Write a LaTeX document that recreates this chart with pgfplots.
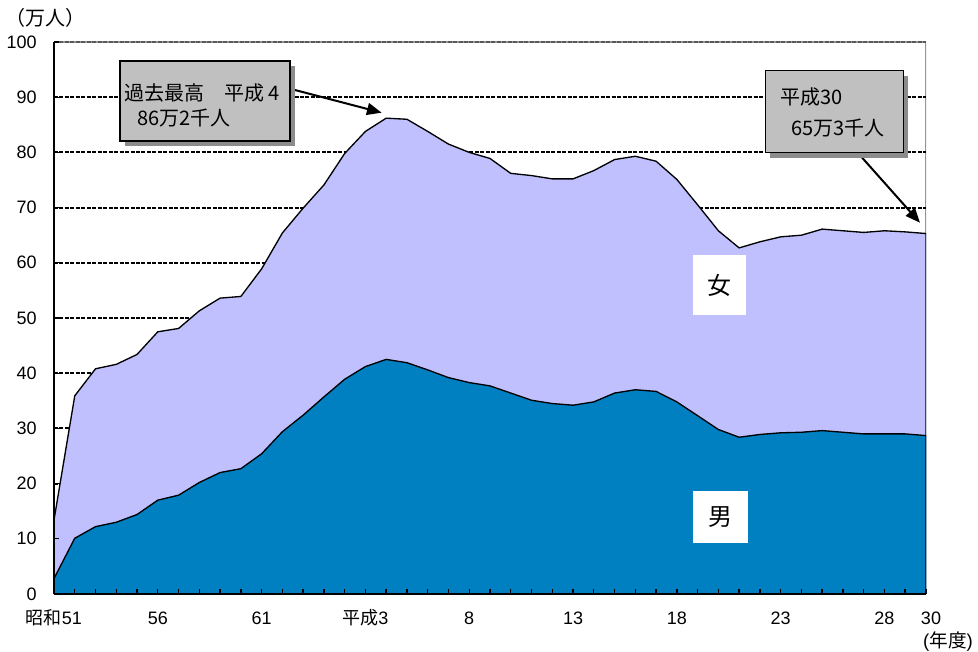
\documentclass[border=0pt]{standalone}
\usepackage{fontspec}
\setmainfont{Liberation Sans}
\newfontfamily\jp{Noto Sans CJK JP}
\usepackage{pgfplots}
\usepackage{pgfplotstable}
\pgfplotsset{compat=1.18}
\usetikzlibrary{arrows.meta}

\definecolor{female}{RGB}{192,192,255}
\definecolor{male}{RGB}{0,128,192}
\definecolor{calloutfill}{RGB}{192,192,192}
\definecolor{calloutshadow}{RGB}{140,140,140}
\definecolor{framegray}{RGB}{150,150,150}

% fiscal year, total (10k persons), male (10k persons)
\pgfplotstableread{
year total male
1976 13.4 2.8
1977 35.9 10.1
1978 40.8 12.2
1979 41.6 13.0
1980 43.4 14.4
1981 47.5 17.0
1982 48.1 17.9
1983 51.3 20.2
1984 53.6 22.0
1985 53.9 22.7
1986 58.9 25.4
1987 65.4 29.4
1988 69.9 32.4
1989 74.1 35.7
1990 79.8 38.9
1991 83.8 41.2
1992 86.2 42.5
1993 86.0 41.9
1994 83.8 40.6
1995 81.5 39.2
1996 80.0 38.3
1997 78.9 37.7
1998 76.2 36.4
1999 75.8 35.1
2000 75.2 34.5
2001 75.2 34.2
2002 76.7 34.8
2003 78.7 36.4
2004 79.3 37.0
2005 78.4 36.7
2006 75.1 34.8
2007 70.5 32.3
2008 65.8 29.8
2009 62.7 28.4
2010 63.8 28.9
2011 64.7 29.2
2012 65.0 29.3
2013 66.1 29.6
2014 65.8 29.3
2015 65.5 29.0
2016 65.8 29.0
2017 65.6 29.0
2018 65.3 28.7
}\datatable

\tikzset{
  callout/.style={draw=black, line width=0.9pt, fill=calloutfill,
    inner sep=0pt, minimum width=#1},
  calloutshadow/.style={fill=calloutshadow, inner sep=0pt, minimum width=#1},
  ctext/.style={anchor=west, inner sep=0pt, font=\jp\fontsize{15pt}{18pt}\selectfont},
  sexlabel/.style={fill=white, inner sep=0pt, font=\jp\fontsize{18pt}{18pt}\selectfont},
  pointer/.style={line width=1.5pt, -{Triangle[length=11pt,width=9pt]}},
  guide/.style={line width=1.4pt, dash pattern=on 3pt off 1.1pt},
  tickmark/.style={black, line width=1pt},
}

\begin{document}
\begin{tikzpicture}
\useasboundingbox (0,0) rectangle (733.5pt,489pt);
\begin{axis}[
  at={(40.5pt,43.5pt)}, anchor=south west,
  scale only axis, width=654pt, height=414pt,
  xmin=1976, xmax=2018, ymin=0, ymax=100,
  axis on top,
  axis x line*=bottom, axis y line*=left,
  axis line style={-, black, line width=1.4pt},
  x axis line style={-}, y axis line style={-},
  tick pos=left, tick align=inside,
  xtick={1976,1981,1986,1991,1996,2001,2006,2011,2016,2018},
  minor xtick={1976,...,2018},
  xticklabels={{{\jp 昭和}51},56,61,{{\jp 平成}3},8,13,18,23,28,{\hspace*{7.5pt}30}},
  ytick={0,10,...,100},
  major tick length=4pt, minor tick length=4pt,
  every tick/.style={black, line width=1pt},
  every minor tick/.style={black, line width=1pt},
  tick label style={font=\fontsize{13.5pt}{16pt}\selectfont},
  /pgf/number format/assume math mode=true,
  yticklabel style={anchor=east, inner sep=0pt, xshift=-12.75pt},
  xticklabel style={anchor=base, inner sep=0pt, yshift=-23.25pt},
]
  % frame and horizontal guides behind the areas
  \draw[framegray, line width=0.8pt] (axis cs:1976,100) -- (axis cs:2018,100) -- (axis cs:2018,0);
  \pgfplotsinvokeforeach{10,20,...,90}{
    \draw[guide, black] (axis cs:1976,#1) -- (axis cs:2018,#1);
  }
  \draw[guide, black!65] (axis cs:1976,100) -- (axis cs:2018,100);

  % stacked areas: total on top, male below
  \addplot[draw=black, line width=1pt, fill=female] table[x=year, y=total] {\datatable} \closedcycle;
  \addplot[draw=black, line width=1pt, fill=male] table[x=year, y=male] {\datatable} \closedcycle;

  % inward year ticks along the base and value ticks along the left side
  \pgfplotsinvokeforeach{1977,...,2017}{
    \draw[tickmark] (axis cs:#1,0) -- ([yshift=4pt]axis cs:#1,0);
  }
  \pgfplotsinvokeforeach{10,20,...,90}{
    \draw[tickmark] (axis cs:1976,#1) -- ([xshift=3.5pt]axis cs:1976,#1);
  }

  % area labels
  \node[sexlabel, minimum width=39.75pt, minimum height=45pt] at (axis cs:2008.05,55.98) {女};
  \node[sexlabel, minimum width=41.25pt, minimum height=39pt] at (axis cs:2008.08,13.95) {男};

  % peak callout
  \draw[pointer] (axis cs:1987.2,91.7) -- (axis cs:1991.78,87.19);
  \node[calloutshadow=127.5pt, minimum height=60pt, xshift=3.75pt, yshift=-3.75pt] at (axis cs:1983.27,89.31) {};
  \node[callout=127.5pt, minimum height=60pt] at (axis cs:1983.27,89.31) {};
  \node[ctext] at (axis cs:1979.37,90.76) {過去最高　平成 4};
  \node[ctext] at (axis cs:1980.0,86.23) {86万2千人};

  % latest-year callout
  \draw[pointer] (axis cs:2014.72,79.9) -- (axis cs:2017.71,67.26);
  \node[calloutshadow=103.7pt, minimum height=61.5pt, xshift=3.75pt, yshift=-3.75pt] at (axis cs:2013.58,87.37) {};
  \node[callout=103.7pt, minimum height=61.5pt] at (axis cs:2013.58,87.37) {};
  \node[ctext] at (axis cs:2010.97,90.04) {平成30};
  \node[ctext] at (axis cs:2011.5,84.42) {65万3千人};
\end{axis}
\node[font=\jp\fontsize{15pt}{18pt}\selectfont, inner sep=0pt] at (33.75pt,475.5pt) {（万人）};
\node[font=\fontsize{14pt}{16pt}\selectfont, inner sep=0pt] at (711pt,7.5pt) {({\jp 年度})};
\end{tikzpicture}
\end{document}
